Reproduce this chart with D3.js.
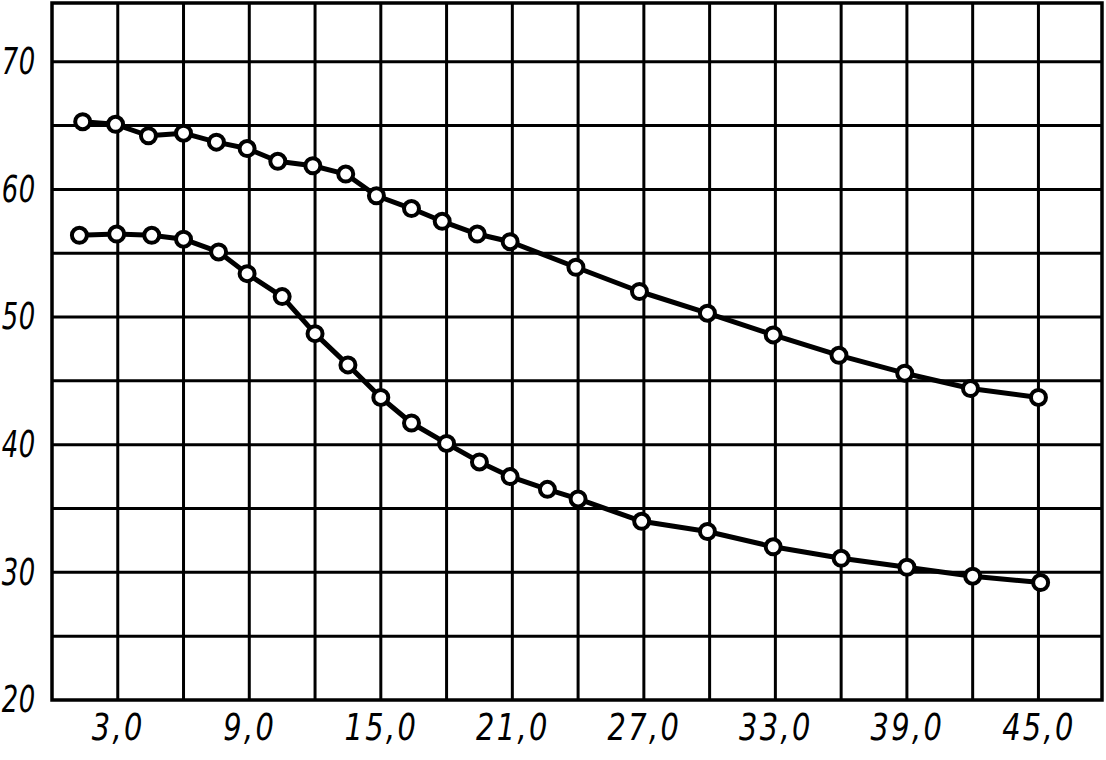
<!DOCTYPE html>
<html>
<head>
<meta charset="utf-8">
<script src="https://cdn.jsdelivr.net/npm/d3@7"></script>
<style>
  html, body { margin: 0; padding: 0; background: #fff; }
  svg { display: block; }
  .lbl { font-family: "DejaVu Sans", sans-serif; font-style: italic; font-size: 37px; fill: #000; }
  .xl { letter-spacing: 3px; }
  .yl { letter-spacing: 1px; }
</style>
</head>
<body>
<svg id="chart" width="1106" height="760"></svg>
<script>
// ---- data ----
const upperX = [1.4, 2.9, 4.4, 6.0, 7.5, 8.9, 10.3, 11.9, 13.4, 14.8, 16.4, 17.8, 19.4, 20.9, 23.9, 26.8, 29.9, 32.9, 35.9, 38.9, 41.9, 45.0];
const upperY = [65.3, 65.1, 64.2, 64.4, 63.7, 63.2, 62.2, 61.85, 61.2, 59.5, 58.5, 57.5, 56.5, 55.9, 53.9, 52.0, 50.3, 48.6, 47.0, 45.6, 44.4, 43.7];
const lowerX = [1.25, 2.95, 4.55, 6.0, 7.6, 8.9, 10.5, 12.0, 13.5, 15.0, 16.4, 18.0, 19.5, 20.9, 22.6, 24.0, 26.9, 29.9, 32.9, 36.0, 39.0, 42.0, 45.1];
const lowerY = [56.4, 56.5, 56.4, 56.1, 55.1, 53.4, 51.6, 48.7, 46.25, 43.7, 41.7, 40.1, 38.65, 37.5, 36.5, 35.75, 34.0, 33.2, 32.0, 31.1, 30.4, 29.7, 29.2];
const xTickLabels = [3, 9, 15, 21, 27, 33, 39, 45];
const yTickLabels = [20, 30, 40, 50, 60, 70];
const xGrid = [3, 6, 9, 12, 15, 18, 21, 24, 27, 30, 33, 36, 39, 42, 45];
const yGrid = [25, 30, 35, 40, 45, 50, 55, 60, 65, 70];

// ---- chart ----
const svg = d3.select("#chart");
const x = d3.scaleLinear().domain([0, 47.9]).range([52, 1102]);
const y = d3.scaleLinear().domain([20, 74.6]).range([700, 3]);

// grid
svg.append("g").selectAll("line").data(xGrid).join("line")
  .attr("x1", d => x(d)).attr("x2", d => x(d))
  .attr("y1", y(20)).attr("y2", y(74.6))
  .attr("stroke", "#000").attr("stroke-width", 3);
svg.append("g").selectAll("line").data(yGrid).join("line")
  .attr("x1", x(0)).attr("x2", x(47.9))
  .attr("y1", d => y(d)).attr("y2", d => y(d))
  .attr("stroke", "#000").attr("stroke-width", 3);

// border
svg.append("rect")
  .attr("x", x(0)).attr("y", y(74.6))
  .attr("width", x(47.9) - x(0)).attr("height", y(20) - y(74.6))
  .attr("fill", "none").attr("stroke", "#000").attr("stroke-width", 3.5);

// narrow the label glyphs (technical-drawing style lettering)
function narrow(sel, sx) {
  sel.each(function () {
    const t = d3.select(this);
    const tx = +t.attr("x") || 0;
    t.attr("x", 0).attr("transform", `translate(${tx},0) scale(${sx},1)`);
  });
}

// axes labels via d3 axes
const fmt = d => d3.format(".1f")(d).replace(".", ",");
const xAxis = svg.append("g").attr("transform", `translate(0,${y(20)})`)
  .call(d3.axisBottom(x).tickValues(xTickLabels).tickFormat(fmt).tickSize(0).tickPadding(14));
xAxis.select(".domain").remove();
xAxis.selectAll("text").attr("class", "lbl xl").attr("font-size", null).attr("font-family", null).call(narrow, 0.78);

const yAxis = svg.append("g").attr("transform", `translate(${x(0)},0)`)
  .call(d3.axisLeft(y).tickValues(yTickLabels).tickFormat(d3.format("d")).tickSize(0).tickPadding(16));
yAxis.select(".domain").remove();
yAxis.selectAll("text").attr("class", "lbl yl").attr("font-size", null).attr("font-family", null).call(narrow, 0.7);

// series
const line = d3.line().x(d => x(d[0])).y(d => y(d[1]));
const series = [d3.zip(upperX, upperY), d3.zip(lowerX, lowerY)];
series.forEach(pts => {
  svg.append("path").datum(pts).attr("d", line)
    .attr("fill", "none").attr("stroke", "#000").attr("stroke-width", 5)
    .attr("stroke-linejoin", "round");
  svg.append("g").selectAll("circle").data(pts).join("circle")
    .attr("cx", d => x(d[0])).attr("cy", d => y(d[1])).attr("r", 7.5)
    .attr("fill", "#fff").attr("stroke", "#000").attr("stroke-width", 4);
});
</script>
</body>
</html>
